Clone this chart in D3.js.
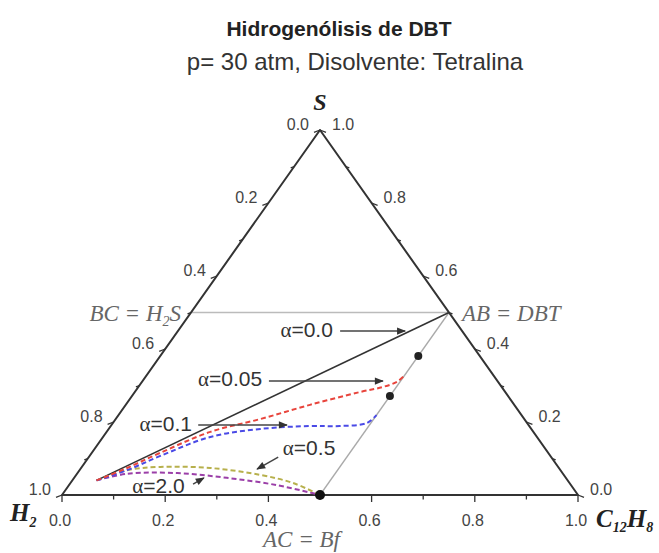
<!DOCTYPE html>
<meta charset="utf-8">
<script src="https://d3js.org/d3.v7.min.js"></script>
<style>
  body { margin: 0; background: #fff; }
  text { font-family: "Liberation Sans", Arial, sans-serif; }
  .serif { font-family: "Liberation Serif", "Times New Roman", serif; }
</style>
<div id="ternary"></div>
<script>
    var width = 659, height = 553;

    // axis ticks (same values on all three sides)
    const majorTicks = [0, 0.2, 0.4, 0.6, 0.8, 1.0];
    const minorTicks = [0.1, 0.3, 0.5, 0.7, 0.9];

    // points given as [C12H8 fraction, S fraction]
    const feed = [0.047, 0.040];
    const DBT = [0.5, 0.5], H2S = [0, 0.5], Bf = [0.5, 0];
    const alpha00 = [DBT, feed];
    const alpha005 = [[0.047, 0.040], [0.089, 0.074], [0.132, 0.115], [0.201, 0.173], [0.280, 0.208],
                      [0.357, 0.247], [0.436, 0.282], [0.474, 0.296], [0.494, 0.310], [0.500, 0.326]];
    const alpha01 = [[0.047, 0.040], [0.092, 0.068], [0.137, 0.107], [0.208, 0.159], [0.294, 0.181],
                     [0.386, 0.189], [0.444, 0.189], [0.492, 0.197], [0.500, 0.219]];
    const alpha05 = [[0.047, 0.040], [0.092, 0.068], [0.152, 0.077], [0.250, 0.074], [0.357, 0.055],
                     [0.431, 0.033], [0.500, 0.000]];
    const alpha20 = [[0.047, 0.040], [0.097, 0.058], [0.193, 0.060], [0.296, 0.047], [0.403, 0.027],
                     [0.500, 0.000]];
    const dots = [[0.5, 0.381], [0.5, 0.271]];

    // annotation labels: text, anchor, [X, Y] in plot units, arrow from/to in plot units
    const labels = ["0.0", "0.05", "0.1", "0.5", "2.0"];
    const labelPos = [[0.525, 0.452], [0.388, 0.318], [0.252, 0.195], [0.428, 0.129], [0.136, 0.025]];
    const labelAnchor = ["end", "end", "end", "start", "start"];
    const arrowFrom = [[0.539, 0.449], [0.401, 0.312], [0.264, 0.192], [0.419, 0.104], [0.254, 0.030]];
    const arrowTo = [[0.665, 0.449], [0.622, 0.312], [0.436, 0.192], [0.378, 0.071], [0.275, 0.047]];

    var x = d3.scaleLinear().domain([0, 1]).range([62, 578]);
    var y = d3.scaleLinear().domain([0, 1]).range([495, 130]);
    function px(p) { return x(p[0] + p[1] / 2); }
    function py(p) { return y(p[1]); }

    var svg = d3.select("#ternary").append("svg")
        .attr("width", width).attr("height", height);

    svg.append("defs").append("marker")
        .attr("id", "arr").attr("viewBox", "0 0 10 10")
        .attr("refX", 9).attr("refY", 5)
        .attr("markerWidth", 7).attr("markerHeight", 6)
        .attr("orient", "auto")
      .append("path").attr("d", "M0,1L10,5L0,9z").attr("fill", "#333");

    // titles
    svg.append("text").attr("x", 339).attr("y", 36).attr("text-anchor", "middle")
        .style("font-size", "21px").style("font-weight", "bold").attr("fill", "#222")
        .text("Hidrogenólisis de DBT");
    svg.append("text").attr("x", 355).attr("y", 70).attr("text-anchor", "middle")
        .style("font-size", "24px").attr("fill", "#333")
        .text("p= 30 atm, Disolvente: Tetralina");

    var line = d3.line().x(px).y(py);
    var curve = d3.line().x(px).y(py).curve(d3.curveCatmullRom);

    // guide lines
    svg.append("path").attr("d", line([H2S, DBT])).attr("stroke", "#bbb").attr("stroke-width", 1.5).attr("fill", "none");
    svg.append("path").attr("d", line([DBT, Bf])).attr("stroke", "#aaa").attr("stroke-width", 1.3).attr("fill", "none");

    // triangle
    var A = [0, 1], L = [0, 0], R = [1, 0];
    svg.append("path").attr("d", line([L, R, A, L]) + "Z")
        .attr("fill", "none").attr("stroke", "#333").attr("stroke-width", 2).attr("stroke-linejoin", "round");

    // ticks: left axis = H2 fraction (0 top), right axis = S fraction (0 bottom right), bottom = C12H8
    function leftPt(v) { return [0, 1 - v]; }
    function rightPt(v) { return [1 - v, v]; }
    function botPt(v) { return [v, 0]; }
    var tk = svg.append("g").attr("stroke", "#333").attr("stroke-width", 1.3);
    majorTicks.concat(minorTicks).forEach(function(v) {
        var len = majorTicks.indexOf(v) >= 0 ? 6 : 3.5;
        var p = leftPt(v);
        tk.append("line").attr("x1", px(p)).attr("y1", py(p)).attr("x2", px(p) - len).attr("y2", py(p) + len * 0.4);
        p = rightPt(v);
        tk.append("line").attr("x1", px(p)).attr("y1", py(p)).attr("x2", px(p) + len).attr("y2", py(p) + len * 0.4);
        p = botPt(v);
        tk.append("line").attr("x1", px(p)).attr("y1", py(p)).attr("x2", px(p)).attr("y2", py(p) + len + 1);
    });
    var tl = svg.append("g").style("font-size", "16px").attr("fill", "#444");
    majorTicks.forEach(function(v) {
        var p = leftPt(v);
        tl.append("text").attr("x", px(p) - 11).attr("y", py(p)).attr("text-anchor", "end").text(v.toFixed(1));
        p = rightPt(v);
        tl.append("text").attr("x", px(p) + 12).attr("y", py(p)).attr("text-anchor", "start").text(v.toFixed(1));
        p = botPt(v);
        tl.append("text").attr("x", px(p) - 2).attr("y", py(p) + 31).attr("text-anchor", "middle").text(v.toFixed(1));
    });

    // vertex labels
    svg.append("text").attr("class", "serif").attr("x", 320).attr("y", 110).attr("text-anchor", "middle")
        .style("font-size", "24px").style("font-weight", "bold").style("font-style", "italic").attr("fill", "#222").text("S");
    var h2 = svg.append("text").attr("class", "serif").attr("x", 10).attr("y", 521)
        .style("font-size", "25px").style("font-weight", "bold").style("font-style", "italic").attr("fill", "#222");
    h2.append("tspan").text("H");
    h2.append("tspan").attr("dy", 6).style("font-size", "14px").text("2");
    var ch = svg.append("text").attr("class", "serif").attr("x", 596).attr("y", 527)
        .style("font-size", "25px").style("font-weight", "bold").style("font-style", "italic").attr("fill", "#222");
    ch.append("tspan").text("C");
    ch.append("tspan").attr("dy", 5).style("font-size", "14px").text("12");
    ch.append("tspan").attr("dy", -5).text("H");
    ch.append("tspan").attr("dy", 5).style("font-size", "14px").text("8");

    // compound labels
    function compLabel(xx, yy, anchor, parts) {
        var t = svg.append("text").attr("class", "serif").attr("x", xx).attr("y", yy).attr("text-anchor", anchor)
            .style("font-size", "23px").style("font-style", "italic").attr("fill", "#666");
        parts.forEach(function(q) {
            var s = t.append("tspan").text(q[0]);
            if (q[1]) s.attr("dy", q[1]);
            if (q[2]) s.style("font-size", q[2]);
        });
    }
    compLabel(px(H2S) - 10, py(H2S) + 8, "end", [["BC = H"], ["2", 5, "14px"], ["S", -5]]);
    compLabel(px(DBT) + 13, py(DBT) + 8, "start", [["AB = DBT"]]);
    compLabel(px(Bf) - 57, py(Bf) + 52, "start", [["AC = Bf"]]);

    // reaction paths
    svg.append("path").attr("d", line(alpha00)).attr("stroke", "#333").attr("stroke-width", 1.6).attr("fill", "none");
    var series = [[alpha20, "#9b3fa8"], [alpha05, "#b7b04c"], [alpha01, "#4a4ae6"], [alpha005, "#e8443c"]];
    series.forEach(function(s) {
        svg.append("path").attr("d", curve(s[0])).attr("stroke", s[1]).attr("stroke-width", 2)
            .attr("stroke-dasharray", "5,3").attr("fill", "none");
    });

    svg.selectAll(".dot").data(dots).enter().append("circle")
        .attr("cx", px).attr("cy", py).attr("r", 4).attr("fill", "#222");
    svg.append("circle").attr("cx", px(Bf)).attr("cy", py(Bf)).attr("r", 5).attr("fill", "#111");

    // alpha annotations
    labels.forEach(function(lbl, i) {
        var X = x(labelPos[i][0]), Y = y(labelPos[i][1]);
        var t = svg.append("text").attr("x", X).attr("y", Y + 7).attr("text-anchor", labelAnchor[i])
            .style("font-size", "21px").attr("fill", "#333");
        t.append("tspan").attr("class", "serif").style("font-family", "'Liberation Serif', serif").text("α");
        t.append("tspan").text("=" + lbl);
        svg.append("line")
            .attr("x1", x(arrowFrom[i][0])).attr("y1", y(arrowFrom[i][1]))
            .attr("x2", x(arrowTo[i][0])).attr("y2", y(arrowTo[i][1]))
            .attr("stroke", "#444").attr("stroke-width", 1.5).attr("marker-end", "url(#arr)");
    });
</script>
